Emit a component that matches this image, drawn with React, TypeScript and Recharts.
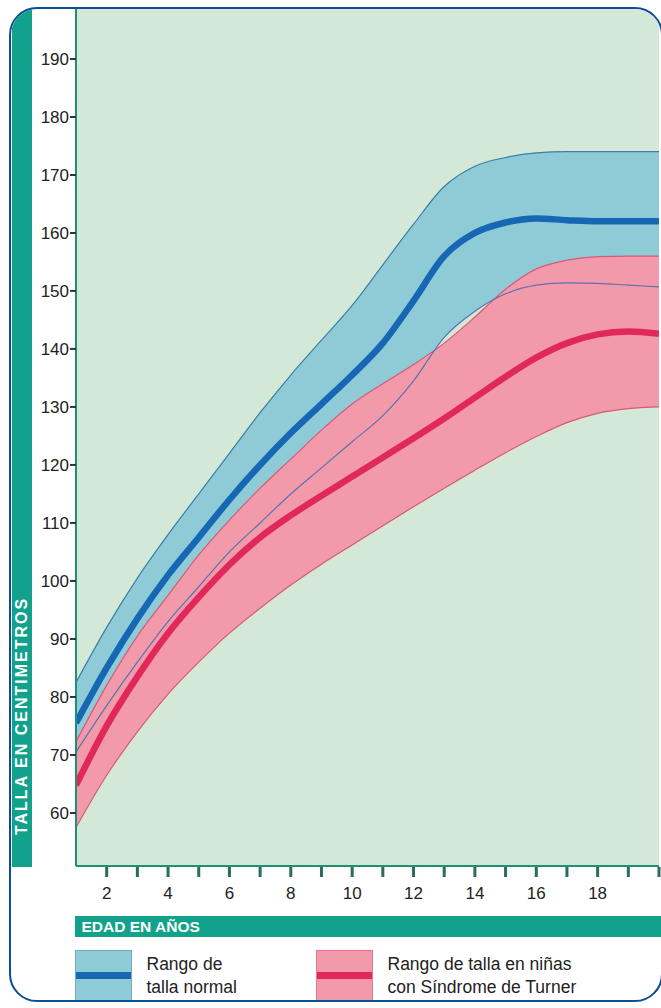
import React from 'react';
import { ComposedChart, Area, Line, XAxis, YAxis, CartesianGrid } from 'recharts';

const ages = [1, 2, 3, 4, 5, 6, 7, 8, 9, 10, 11, 12, 13, 14, 15, 16, 17, 18, 19, 20];

// rango de talla normal (cm)
const normalUpper = [82.5, 92, 100.5, 108, 115, 122, 129, 135.5, 141.5, 147.5, 154.5, 161.5, 168, 171.5, 173, 173.8, 174, 174, 174, 174];
const normalMean = [75.5, 85, 93.5, 101, 107.5, 114, 120, 125.5, 130.5, 135.5, 141, 148.3, 156, 160, 161.8, 162.5, 162.2, 162, 162, 162];
const normalLower = [70.5, 78.5, 86, 93, 99, 105, 110, 115, 119.5, 124, 128.5, 134.5, 142, 146.5, 149.5, 151, 151.4, 151.3, 151, 150.7];

// niñas con síndrome de Turner (cm)
const turnerUpper = [72.3, 82, 90.5, 97.5, 104.5, 110.5, 116, 121, 126, 130.5, 134, 137.3, 141, 145.5, 150.3, 153.8, 155.3, 155.9, 156, 156];
const turnerMean = [64.8, 75, 83.5, 91, 97.2, 102.8, 107.5, 111.3, 114.7, 118, 121.3, 124.6, 128, 131.6, 135.2, 138.5, 141, 142.5, 143, 142.6];
const turnerLower = [57.5, 66.5, 74, 80.5, 86, 91, 95.3, 99.3, 102.9, 106.2, 109.5, 112.8, 116, 119.1, 122.1, 124.9, 127.3, 128.9, 129.7, 130];

const yTicks = [60, 70, 80, 90, 100, 110, 120, 130, 140, 150, 160, 170, 180, 190];
const xTicks = [2, 3, 4, 5, 6, 7, 8, 9, 10, 11, 12, 13, 14, 15, 16, 17, 18, 19, 20];

const rows = ages.map((age, i) => ({
  age,
  normalBand: [normalLower[i], normalUpper[i]],
  turnerBand: [turnerLower[i], turnerUpper[i]],
  normalUpper: normalUpper[i],
  normalMean: normalMean[i],
  normalLower: normalLower[i],
  turnerUpper: turnerUpper[i],
  turnerMean: turnerMean[i],
  turnerLower: turnerLower[i],
}));

const FONT = '"Liberation Sans", Arial, Helvetica, sans-serif';
const TEAL = '#12a28c';
const AXIS = '#1f8f78';
const BG = '#d3e8d6';
const BLUE_FILL = '#8ecbd7';
const BLUE = '#1668b4';
const PINK_FILL = '#f29aaa';
const RED = '#e0295a';

// card padding box starts here in page coords
const CX = 11.5;
const CY = 9.5;

const AgeTick = (props: any) => {
  const { x, y, payload } = props;
  const v = payload.value;
  return (
    <g>
      <rect x={x - 1.5} y={y + 1} width={3} height={10} fill="#2b6c5f" />
      {v % 2 === 0 && v < 20 && (
        <text x={x} y={y + 33} textAnchor="middle" fontSize={17} fontFamily={FONT} fill="#222">
          {v}
        </text>
      )}
    </g>
  );
};

const LegendItem = ({ left, fill, edge, stripe, lines, textLeft }: any) => (
  <>
    <div
      style={{
        position: 'absolute',
        left: left - CX,
        top: 950 - CY,
        width: 57,
        height: 52,
        background: fill,
        boxSizing: 'border-box',
        border: `1px solid ${edge}`,
      }}
    >
      <div style={{ position: 'absolute', left: 0, right: 0, top: 21, height: 7, background: stripe }} />
    </div>
    <div
      style={{
        position: 'absolute',
        left: textLeft - CX,
        top: 953.5 - CY,
        fontFamily: FONT,
        fontSize: 17.5,
        lineHeight: '23px',
        color: '#222',
        whiteSpace: 'nowrap',
      }}
    >
      {lines[0]}
      <br />
      {lines[1]}
    </div>
  </>
);

export default function App() {
  return (
    <div style={{ position: 'fixed', left: 0, top: 0, width: 661, height: 1008, overflow: 'hidden', background: '#fff' }}>
      <div
        style={{
          position: 'absolute',
          left: 9,
          top: 7,
          width: 654,
          height: 995,
          border: '2.5px solid #0d4c96',
          borderRadius: 28,
          boxSizing: 'border-box',
          overflow: 'hidden',
          background: '#fff',
        }}
      >
        {/* barra vertical */}
        <div style={{ position: 'absolute', left: 12 - CX, top: 0, width: 20, height: 867 - CY, background: TEAL }} />
        <div
          style={{
            position: 'absolute',
            left: 22 - CX,
            top: 716 - CY,
            transform: 'translate(-50%, -50%) rotate(-90deg)',
            color: '#fff',
            fontFamily: FONT,
            fontWeight: 700,
            fontSize: 16,
            letterSpacing: 2,
            whiteSpace: 'nowrap',
          }}
        >
          TALLA EN CENTIMETROS
        </div>

        <div style={{ position: 'absolute', left: -CX, top: -CY }}>
          <ComposedChart width={661} height={1008} data={rows} margin={{ top: 9, right: 2, bottom: 102, left: 0 }}>
            <CartesianGrid horizontal={false} vertical={false} fill={BG} />
            <XAxis
              dataKey="age"
              type="number"
              domain={[1, 20]}
              ticks={xTicks}
              allowDataOverflow
              height={40}
              tickSize={0}
              tickMargin={0}
              tickLine={false}
              axisLine={{ stroke: AXIS, strokeWidth: 2 }}
              tick={<AgeTick />}
              interval={0}
            />
            <YAxis
              type="number"
              domain={[50.86, 198.6]}
              ticks={yTicks}
              allowDataOverflow
              width={76}
              tickSize={6}
              tickMargin={1}
              axisLine={{ stroke: AXIS, strokeWidth: 2 }}
              tickLine={{ stroke: '#333', strokeWidth: 2 }}
              tick={{ fill: '#222', fontSize: 17, fontFamily: FONT }}
              interval={0}
            />
            <Area dataKey="normalBand" type="monotone" stroke="none" fill={BLUE_FILL} fillOpacity={1} isAnimationActive={false} activeDot={false} />
            <Area dataKey="turnerBand" type="monotone" stroke="none" fill={PINK_FILL} fillOpacity={1} isAnimationActive={false} activeDot={false} />
            <Line dataKey="turnerUpper" type="monotone" stroke="#d65a78" strokeWidth={1.2} dot={false} activeDot={false} isAnimationActive={false} />
            <Line dataKey="turnerLower" type="monotone" stroke="#d65a78" strokeWidth={1.2} dot={false} activeDot={false} isAnimationActive={false} />
            <Line dataKey="normalUpper" type="monotone" stroke="#3a7fab" strokeWidth={1.2} dot={false} activeDot={false} isAnimationActive={false} />
            <Line dataKey="normalLower" type="monotone" stroke="#5a72b0" strokeWidth={1.2} dot={false} activeDot={false} isAnimationActive={false} />
            <Line dataKey="normalMean" type="monotone" stroke={BLUE} strokeWidth={6.5} dot={false} activeDot={false} isAnimationActive={false} />
            <Line dataKey="turnerMean" type="monotone" stroke={RED} strokeWidth={6.5} dot={false} activeDot={false} isAnimationActive={false} />
          </ComposedChart>
        </div>

        {/* barra horizontal */}
        <div style={{ position: 'absolute', left: 75 - CX, top: 916 - CY, width: 700, height: 21, background: TEAL }} />
        <div
          style={{
            position: 'absolute',
            left: 82 - CX,
            top: 916 - CY,
            height: 21,
            lineHeight: '21px',
            color: '#fff',
            fontFamily: FONT,
            fontWeight: 700,
            fontSize: 15.5,
            whiteSpace: 'nowrap',
          }}
        >
          EDAD EN AÑOS
        </div>

        <LegendItem left={75} textLeft={147} fill={BLUE_FILL} edge="#6fb0c8" stripe={BLUE} lines={['Rango de', 'talla normal']} />
        <LegendItem left={316} textLeft={388} fill={PINK_FILL} edge="#e07890" stripe={RED} lines={['Rango de talla en niñas', 'con Síndrome de Turner']} />
      </div>
    </div>
  );
}
